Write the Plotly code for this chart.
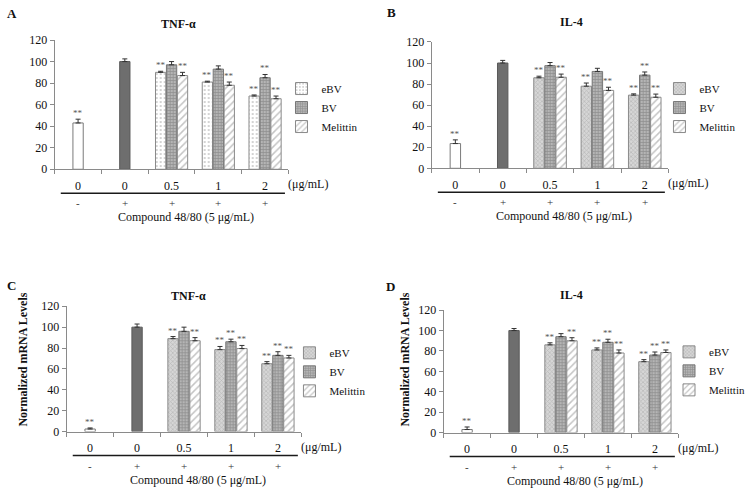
import plotly.graph_objects as go

# ---------------- data ----------------
dose_labels = ["0", "0", "0.5", "1", "2"]
compound_signs = ["-", "+", "+", "+", "+"]
treat_doses = ["0.5", "1", "2"]

# Panel A: TNF-alpha (protein)
A_control, A_control_err = 43, 3.5
A_compound, A_compound_err = 100, 2.5
A_ebv = [90, 81, 68];   A_ebv_err = [1.0, 0.8, 1.0]
A_bv = [97, 93, 85];    A_bv_err = [3, 3, 3]
A_mel = [87, 78, 65.5]; A_mel_err = [3, 3, 2.5]
A_sig_ebv = [True, True, True]; A_sig_bv = [False, False, True]; A_sig_mel = [True, True, True]

# Panel B: IL-4 (protein)
B_control, B_control_err = 23.5, 3.5
B_compound, B_compound_err = 100, 2.5
B_ebv = [86, 78, 69.5]; B_ebv_err = [1.5, 3, 1.2]
B_bv = [97.5, 92, 88.5]; B_bv_err = [3, 3, 3]
B_mel = [86.5, 74, 67.5]; B_mel_err = [3, 3, 3]
B_sig_ebv = [True, True, True]; B_sig_bv = [False, False, True]; B_sig_mel = [True, True, True]

# Panel C: TNF-alpha (mRNA)
C_control, C_control_err = 2.5, 1
C_compound, C_compound_err = 100, 3
C_ebv = [89, 78.5, 65]; C_ebv_err = [2, 3, 2]
C_bv = [96, 86, 73];    C_bv_err = [4, 2.5, 3.5]
C_mel = [87, 79.5, 70.5]; C_mel_err = [3, 3, 2.5]
C_sig_ebv = [True, True, True]; C_sig_bv = [False, True, True]; C_sig_mel = [True, True, True]

# Panel D: IL-4 (mRNA)
D_control, D_control_err = 3, 2.5
D_compound, D_compound_err = 100, 2
D_ebv = [86, 81, 69.5]; D_ebv_err = [2, 2, 2]
D_bv = [94, 88.5, 76];  D_bv_err = [3, 3, 3]
D_mel = [90, 78, 78.5]; D_mel_err = [3, 3, 2.5]
D_sig_ebv = [True, True, True]; D_sig_bv = [False, True, True]; D_sig_mel = [True, True, True]

series_names = ["eBV", "BV", "Melittin"]

FONT = "Liberation Serif"
W, H = 750, 494

fig = go.Figure()

panels = [
    dict(key="A", title="TNF-α", ax=1, x0=55, x1=290, ytop=34, ybot=167,
         ctrl=A_control, ctrl_err=A_control_err, comp=A_compound, comp_err=A_compound_err,
         ebv=A_ebv, ebv_err=A_ebv_err, bv=A_bv, bv_err=A_bv_err, mel=A_mel, mel_err=A_mel_err,
         sig=(A_sig_ebv, A_sig_bv, A_sig_mel), ebv_style="dots",
         letter=(5, 7), title_xy=(179, 17), legend_xy=(283, 69), ytitle=None),
    dict(key="B", title="IL-4", ax=2, x0=434, x1=672, ytop=36, ybot=166,
         ctrl=B_control, ctrl_err=B_control_err, comp=B_compound, comp_err=B_compound_err,
         ebv=B_ebv, ebv_err=B_ebv_err, bv=B_bv, bv_err=B_bv_err, mel=B_mel, mel_err=B_mel_err,
         sig=(B_sig_ebv, B_sig_bv, B_sig_mel), ebv_style="check",
         letter=(387, 6), title_xy=(575, 15), legend_xy=(663, 69), ytitle=None),
    dict(key="C", title="TNF-α", ax=3, x0=67, x1=303, ytop=308, ybot=437,
         ctrl=C_control, ctrl_err=C_control_err, comp=C_compound, comp_err=C_compound_err,
         ebv=C_ebv, ebv_err=C_ebv_err, bv=C_bv, bv_err=C_bv_err, mel=C_mel, mel_err=C_mel_err,
         sig=(C_sig_ebv, C_sig_bv, C_sig_mel), ebv_style="check",
         letter=(5, 287), title_xy=(190, 297), legend_xy=(291, 341), ytitle=(23, 363)),
    dict(key="D", title="IL-4", ax=4, x0=446, x1=682, ytop=312, ybot=438,
         ctrl=D_control, ctrl_err=D_control_err, comp=D_compound, comp_err=D_compound_err,
         ebv=D_ebv, ebv_err=D_ebv_err, bv=D_bv, bv_err=D_bv_err, mel=D_mel, mel_err=D_mel_err,
         sig=(D_sig_ebv, D_sig_bv, D_sig_mel), ebv_style="check",
         letter=(386, 288), title_xy=(575, 296), legend_xy=(673, 340), ytitle=(407, 363)),
]

BW = 0.22
GAP = 0.234
annotations = []
shapes = []

for p in panels:
    n = p["ax"]
    xa = "x" if n == 1 else f"x{n}"
    ya = "y" if n == 1 else f"y{n}"
    leg = "legend" if n == 1 else f"legend{n}"
    err_style = dict(type="data", symmetric=False, thickness=1, width=2.5, color="#333")

    fig.add_trace(go.Bar(x=[0], y=[p["ctrl"]], width=BW, xaxis=xa, yaxis=ya, showlegend=False,
                         marker=dict(color="white", line=dict(color="#7a7a7a", width=1)),
                         error_y=dict(array=[p["ctrl_err"]], arrayminus=[0], **err_style)))
    fig.add_trace(go.Bar(x=[1], y=[p["comp"]], width=BW, xaxis=xa, yaxis=ya, showlegend=False,
                         marker=dict(color="#6e6e6e", line=dict(color="#5a5a5a", width=1)),
                         error_y=dict(array=[p["comp_err"]], arrayminus=[0], **err_style)))

    if p["ebv_style"] == "dots":
        ebv_marker = dict(color="white", line=dict(color="#8a8a8a", width=1),
                          pattern=dict(shape=".", fgcolor="#8a8a8a", bgcolor="white", size=4, solidity=0.2))
    else:
        ebv_marker = dict(color="#c9c9c9", line=dict(color="#8a8a8a", width=1),
                          pattern=dict(shape="x", fgcolor="#9a9a9a", bgcolor="#d6d6d6", size=3, solidity=0.4))
    bv_marker = dict(color="#9a9a9a", line=dict(color="#777", width=1),
                     pattern=dict(shape="+", fgcolor="#6a6a6a", bgcolor="#b5b5b5", size=3, solidity=0.45))
    mel_marker = dict(color="white", line=dict(color="#8a8a8a", width=1),
                      pattern=dict(shape="/", fgcolor="#8a8a8a", bgcolor="white", size=5, solidity=0.3))

    cats = [2 + i for i in range(len(treat_doses))]
    groups = [(series_names[0], p["ebv"], p["ebv_err"], ebv_marker, -GAP, p["sig"][0]),
              (series_names[1], p["bv"], p["bv_err"], bv_marker, 0.0, p["sig"][1]),
              (series_names[2], p["mel"], p["mel_err"], mel_marker, GAP, p["sig"][2])]
    for name, vals, errs, mk, off, sig in groups:
        xs = [c + off for c in cats]
        fig.add_trace(go.Bar(x=xs, y=vals, width=BW, name=name, xaxis=xa, yaxis=ya,
                             legend=leg, marker=mk,
                             error_y=dict(array=errs, arrayminus=[0] * len(errs), **err_style)))
        for xv, v, e, s in zip(xs, vals, errs, sig):
            if s:
                annotations.append(dict(x=xv, y=v + e, xref=xa, yref=ya, text="**", showarrow=False,
                                        yanchor="bottom", yshift=-1,
                                        font=dict(family=FONT, size=9, color="#555")))
    annotations.append(dict(x=0, y=p["ctrl"] + p["ctrl_err"], xref=xa, yref=ya, text="**",
                            showarrow=False, yanchor="bottom", yshift=-1,
                            font=dict(family=FONT, size=9, color="#555")))

    dom_x = [p["x0"] / W, p["x1"] / W]
    dom_y = [1 - p["ybot"] / H, 1 - p["ytop"] / H]
    xkey = "xaxis" if n == 1 else f"xaxis{n}"
    ykey = "yaxis" if n == 1 else f"yaxis{n}"
    fig.layout[xkey] = dict(domain=dom_x, anchor=ya, range=[-0.5, 4.5],
                            tickvals=list(range(len(dose_labels))), ticktext=dose_labels,
                            ticks="", showline=True, linecolor="#8a8a8a", linewidth=1,
                            showgrid=False, zeroline=False, ticklabelstandoff=5,
                            tickfont=dict(family=FONT, size=12, color="#111"),
                            minor=dict(tickvals=[i - 0.5 for i in range(len(dose_labels) + 1)],
                                       ticks="outside", ticklen=4, tickcolor="#8a8a8a", showgrid=False))
    fig.layout[ykey] = dict(domain=dom_y, anchor=xa, range=[0, 120], dtick=20,
                            ticks="outside", ticklen=4, tickcolor="#8a8a8a",
                            showline=True, linecolor="#8a8a8a", linewidth=1,
                            showgrid=False, zeroline=False,
                            tickfont=dict(family=FONT, size=12, color="#111"))

    annotations.append(dict(x=1.0, y=0, xref=f"{xa} domain", yref=f"{ya} domain", text="(μg/mL)",
                            showarrow=False, xanchor="left", yanchor="middle", yshift=-15, xshift=-2,
                            font=dict(family=FONT, size=12, color="#111")))
    shapes.append(dict(type="line", xref=f"{xa} domain", yref=f"{ya} domain",
                       x0=0.026, x1=0.985, y0=-24, y1=-24, ysizemode="pixel", yanchor=0,
                       line=dict(color="#1a1a1a", width=1.5)))
    for i, s in enumerate(compound_signs):
        annotations.append(dict(x=i, y=0, xref=xa, yref=f"{ya} domain", text=s, showarrow=False,
                                yanchor="middle", yshift=-34,
                                font=dict(family=FONT, size=11, color="#333")))
    annotations.append(dict(x=0.56, y=0, xref=f"{xa} domain", yref=f"{ya} domain",
                            text="Compound 48/80 (5 μg/mL)", showarrow=False,
                            yanchor="middle", yshift=-48,
                            font=dict(family=FONT, size=12, color="#111")))
    annotations.append(dict(x=p["letter"][0] / W, y=1 - p["letter"][1] / H, xref="paper", yref="paper",
                            text=f"<b>{p['key']}</b>", showarrow=False, xanchor="left", yanchor="middle",
                            font=dict(family=FONT, size=13, color="#111")))
    annotations.append(dict(x=p["title_xy"][0] / W, y=1 - p["title_xy"][1] / H, xref="paper", yref="paper",
                            text=f"<b>{p['title']}</b>", showarrow=False, xanchor="center", yanchor="middle",
                            font=dict(family=FONT, size=12, color="#111")))
    if p["ytitle"]:
        annotations.append(dict(x=p["ytitle"][0] / W, y=1 - p["ytitle"][1] / H, xref="paper", yref="paper",
                                text="<b>Normalized mRNA Levels</b>", showarrow=False, textangle=-90,
                                xanchor="center", yanchor="middle",
                                font=dict(family=FONT, size=12, color="#111")))
    fig.layout[leg] = dict(x=p["legend_xy"][0] / W, y=1 - p["legend_xy"][1] / H, xanchor="left",
                           yanchor="top", bgcolor="rgba(0,0,0,0)", borderwidth=0,
                           font=dict(family=FONT, size=11, color="#111"),
                           itemwidth=30, tracegroupgap=0)

fig.update_layout(width=W, height=H, margin=dict(l=0, r=0, t=0, b=0),
                  paper_bgcolor="white", plot_bgcolor="white", barmode="overlay",
                  annotations=annotations, shapes=shapes, showlegend=True,
                  font=dict(family=FONT, size=12, color="#111"))

fig.write_html("out.html", config={"displayModeBar": False},
               post_script="document.body.style.margin='0';document.body.style.padding='0';")
